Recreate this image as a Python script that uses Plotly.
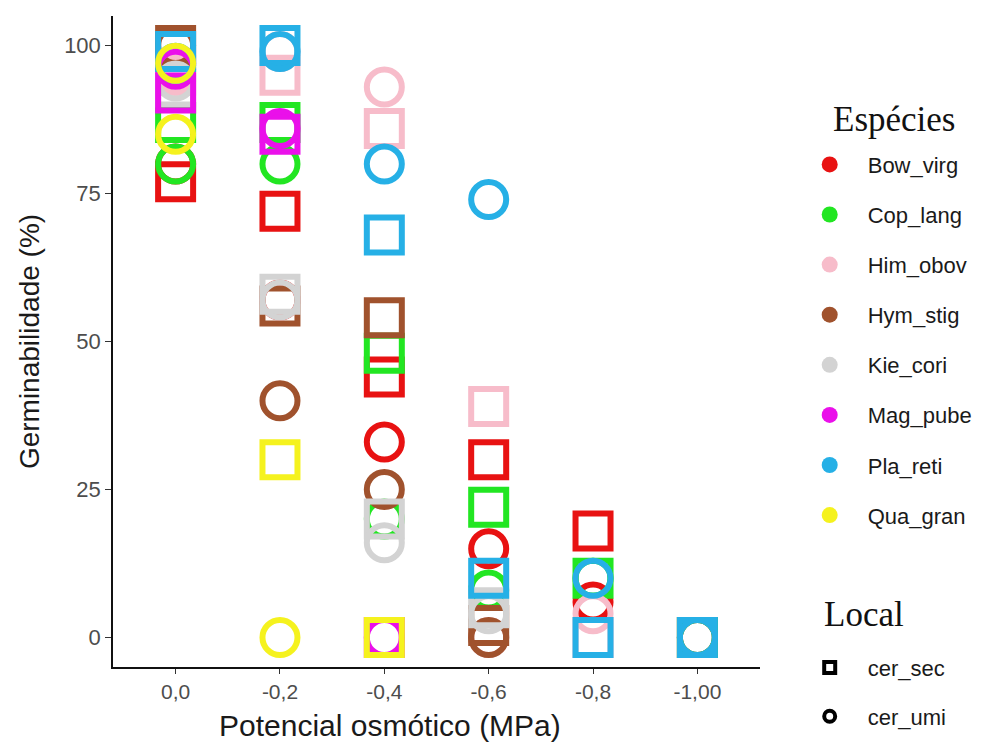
import plotly.graph_objects as go

# ---- data ----
potenciais = ["0,0", "-0,2", "-0,4", "-0,6", "-0,8", "-1,00"]

especies = ["Bow_virg", "Cop_lang", "Him_obov", "Hym_stig", "Kie_cori", "Mag_pube", "Pla_reti", "Qua_gran"]
cores = ["#E81212", "#22E622", "#F7BCCA", "#A0522D", "#D3D3D3", "#EA10EA", "#26B0E6", "#F5F21E"]

# germinabilidade (%) per potencial, cer_sec (squares) and cer_umi (circles)
bow_virg_sec = [77, 72, 44, 30, 18, 0]
bow_virg_umi = [80, 57, 33, 15, 6, 0]
cop_lang_sec = [87, 87, 48, 22, 10, 0]
cop_lang_umi = [80, 80, 20, 8, 10, 0]
him_obov_sec = [95, 95, 86, 39, 0, None]
him_obov_umi = [95, 99, 93, 0, 4, None]
hym_stig_sec = [100, 56, 54, 2, None, None]
hym_stig_umi = [100, 40, 25, 0, None, None]
kie_cori_sec = [93, 58, 20, 5, None, None]
kie_cori_umi = [94, 57, 16, 4, None, None]
mag_pube_sec = [92, 85, 0, None, None, None]
mag_pube_umi = [96, 86, 0, None, None, None]
pla_reti_sec = [99, 100, 68, 10, 0, 0]
pla_reti_umi = [97, 99, 80, 74, 10, 0]
qua_gran_sec = [None, 30, 0, None, None, None]
qua_gran_umi = [85, 0, None, None, None, None]
qua_gran_umi_extra_x = ["0,0"]
qua_gran_umi_extra = [97]

valores = {
    "Bow_virg": (bow_virg_sec, bow_virg_umi),
    "Cop_lang": (cop_lang_sec, cop_lang_umi),
    "Him_obov": (him_obov_sec, him_obov_umi),
    "Hym_stig": (hym_stig_sec, hym_stig_umi),
    "Kie_cori": (kie_cori_sec, kie_cori_umi),
    "Mag_pube": (mag_pube_sec, mag_pube_umi),
    "Pla_reti": (pla_reti_sec, pla_reti_umi),
    "Qua_gran": (qua_gran_sec, qua_gran_umi),
}

locais = ["cer_sec", "cer_umi"]
simbolos = ["square-open", "circle-open"]

MS = 35
LW = 6

fig = go.Figure()

for esp, cor in zip(especies, cores):
    sec, umi = valores[esp]
    for vals, simb in zip((sec, umi), simbolos):
        fig.add_trace(go.Scatter(
            x=potenciais, y=vals, mode="markers", showlegend=False,
            marker=dict(symbol=simb, size=MS, color=cor, line=dict(width=LW, color=cor)),
            hoverinfo="skip", cliponaxis=False,
        ))
    if esp == "Qua_gran":
        fig.add_trace(go.Scatter(
            x=qua_gran_umi_extra_x, y=qua_gran_umi_extra, mode="markers", showlegend=False,
            marker=dict(symbol="circle-open", size=MS, color=cor, line=dict(width=LW, color=cor)),
            hoverinfo="skip", cliponaxis=False,
        ))

# legend entries: species (colour)
for esp, cor in zip(especies, cores):
    fig.add_trace(go.Scatter(
        x=[None], y=[None], mode="markers", name=esp, legend="legend",
        legendgroup=esp, marker=dict(symbol="circle", size=16, color=cor),
    ))

# legend entries: local (shape)
for loc, simb in zip(locais, simbolos):
    fig.add_trace(go.Scatter(
        x=[None], y=[None], mode="markers", name=loc, legend="legend2",
        legendgroup=loc, marker=dict(symbol=simb, size=11, color="black",
                                     line=dict(width=4, color="black")),
    ))

serif = "Liberation Serif, Times New Roman, serif"

fig.update_layout(
    width=996, height=737,
    margin=dict(l=105, r=244, t=8, b=78, autoexpand=False),
    paper_bgcolor="white", plot_bgcolor="white",
    font=dict(family="Liberation Sans, Arial, sans-serif", color="#1a1a1a"),
    xaxis=dict(
        type="category", categoryorder="array", categoryarray=potenciais,
        range=[-0.6, 5.6], showgrid=False, zeroline=False, automargin=False,
        showline=True, linecolor="#111", linewidth=1.5,
        ticks="outside", ticklen=5, tickwidth=1.3, tickcolor="#333",
        tickfont=dict(size=21, color="#4D4D4D"),
    ),
    yaxis=dict(
        range=[-5, 105], tickvals=[0, 25, 50, 75, 100], showgrid=False, zeroline=False,
        automargin=False,
        showline=True, linecolor="#111", linewidth=1.5,
        ticks="outside", ticklen=6, tickwidth=1.3, tickcolor="#333",
        tickfont=dict(size=22, color="#4D4D4D"),
        title=dict(text="Germinabilidade (%)", font=dict(size=28, color="#1a1a1a"), standoff=16),
    ),
    legend=dict(
        x=1.049, xanchor="left", y=0.804, yanchor="top",
        font=dict(size=22, color="#1a1a1a"), tracegroupgap=18.5, itemwidth=66,
        bgcolor="rgba(0,0,0,0)",
    ),
    legend2=dict(
        x=1.049, xanchor="left", y=0.031, yanchor="top",
        font=dict(size=22, color="#1a1a1a"), tracegroupgap=17, itemwidth=66,
        bgcolor="rgba(0,0,0,0)",
    ),
    annotations=[
        dict(text="Potencial osmótico (MPa)", xref="paper", yref="paper",
             x=0.428, y=-0.0895, xanchor="center", yanchor="middle", showarrow=False,
             font=dict(size=30, color="#1a1a1a")),
        dict(text="Espécies", xref="paper", yref="paper", x=1.11, y=0.841,
             xanchor="left", yanchor="middle", showarrow=False,
             font=dict(family=serif, size=35, color="#111")),
        dict(text="Local", xref="paper", yref="paper", x=1.096, y=0.08,
             xanchor="left", yanchor="middle", showarrow=False,
             font=dict(family=serif, size=35, color="#111")),
    ],
)

fig.write_html("out.html")
